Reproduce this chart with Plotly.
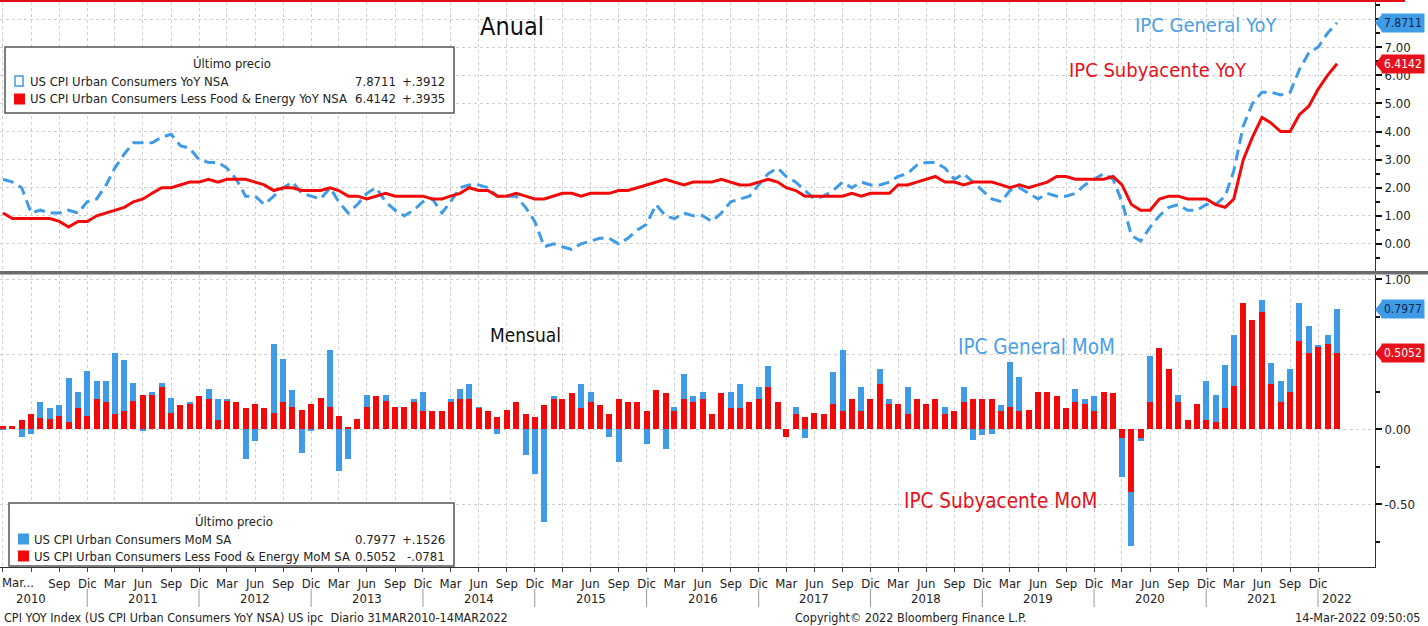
import plotly.graph_objects as go
import pandas as pd

# ---------------- DATA ----------------
dates = pd.date_range("2010-03-01", periods=144, freq="MS")

cpi_yoy = [
    2.3, 2.2, 2.0, 1.1, 1.2, 1.1, 1.1, 1.2, 1.1, 1.5,
    1.6, 2.1, 2.7, 3.2, 3.6, 3.6, 3.6, 3.8, 3.9, 3.5, 3.4, 3.0,
    2.9, 2.9, 2.7, 2.3, 1.7, 1.7, 1.4, 1.7, 2.0, 2.2, 1.8, 1.7,
    1.6, 2.0, 1.5, 1.1, 1.4, 1.8, 2.0, 1.5, 1.2, 1.0, 1.2, 1.5,
    1.6, 1.1, 1.5, 2.0, 2.1, 2.1, 2.0, 1.7, 1.7, 1.7, 1.3, 0.8,
    -0.1, 0.0, -0.1, -0.2, 0.0, 0.1, 0.2, 0.2, 0.0, 0.2, 0.5, 0.7,
    1.4, 1.0, 0.9, 1.1, 1.0, 1.0, 0.8, 1.1, 1.5, 1.6, 1.7, 2.1,
    2.5, 2.7, 2.4, 2.2, 1.9, 1.6, 1.7, 1.9, 2.2, 2.0, 2.2, 2.1,
    2.1, 2.2, 2.4, 2.5, 2.8, 2.9, 2.9, 2.7, 2.3, 2.5, 2.2, 1.9,
    1.6, 1.5, 1.9, 2.0, 1.8, 1.6, 1.8, 1.7, 1.7, 1.8, 2.1, 2.3,
    2.5, 2.3, 1.5, 0.3, 0.1, 0.6, 1.0, 1.3, 1.4, 1.2, 1.2, 1.4,
    1.4, 1.7, 2.6, 4.2, 5.0, 5.4, 5.4, 5.3, 5.4, 6.2, 6.8, 7.0,
    7.5, 7.8711,
]

core_yoy = [
    1.1, 0.9, 0.9, 0.9, 0.9, 0.9, 0.8, 0.6, 0.8, 0.8,
    1.0, 1.1, 1.2, 1.3, 1.5, 1.6, 1.8, 2.0, 2.0, 2.1, 2.2, 2.2,
    2.3, 2.2, 2.3, 2.3, 2.3, 2.2, 2.1, 1.9, 2.0, 2.0, 1.9, 1.9,
    1.9, 2.0, 1.9, 1.7, 1.7, 1.6, 1.7, 1.8, 1.7, 1.7, 1.7, 1.7,
    1.6, 1.6, 1.7, 1.8, 2.0, 1.9, 1.9, 1.7, 1.7, 1.8, 1.7, 1.6,
    1.6, 1.7, 1.8, 1.8, 1.7, 1.8, 1.8, 1.8, 1.9, 1.9, 2.0, 2.1,
    2.2, 2.3, 2.2, 2.1, 2.2, 2.2, 2.2, 2.3, 2.2, 2.1, 2.1, 2.2,
    2.3, 2.2, 2.0, 1.9, 1.7, 1.7, 1.7, 1.7, 1.7, 1.8, 1.7, 1.8,
    1.8, 1.8, 2.1, 2.1, 2.2, 2.3, 2.4, 2.2, 2.2, 2.1, 2.2, 2.2,
    2.2, 2.1, 2.0, 2.1, 2.0, 2.1, 2.2, 2.4, 2.4, 2.3, 2.3, 2.3,
    2.3, 2.4, 2.1, 1.4, 1.2, 1.2, 1.6, 1.7, 1.7, 1.6, 1.6, 1.6,
    1.4, 1.3, 1.6, 3.0, 3.8, 4.5, 4.3, 4.0, 4.0, 4.6, 4.9, 5.5,
    6.0, 6.4142,
]

cpi_mom = [
    0.01, 0.0, -0.05, -0.03, 0.18, 0.14, 0.16, 0.34, 0.25, 0.39,
    0.32, 0.32, 0.51, 0.46, 0.31, -0.01, 0.25, 0.31, 0.21, 0.12, 0.18, 0.12,
    0.27, 0.20, 0.20, 0.10, -0.20, -0.08, 0.02, 0.57, 0.47, 0.26, -0.16, -0.01,
    0.10, 0.53, -0.28, -0.20, 0.05, 0.23, 0.15, 0.23, 0.10, 0.05, 0.20, 0.25,
    0.10, 0.10, 0.20, 0.27, 0.30, 0.15, 0.10, -0.03, 0.10, 0.00, -0.17, -0.30,
    -0.62, 0.22, 0.20, 0.10, 0.30, 0.25, 0.12, -0.05, -0.22, 0.12, 0.02, -0.10,
    0.05, -0.13, 0.15, 0.37, 0.22, 0.25, 0.00, 0.15, 0.25, 0.30, 0.18, 0.28,
    0.42, 0.10, -0.03, 0.15, -0.06, 0.08, 0.05, 0.38, 0.53, 0.05, 0.28, 0.18,
    0.40, 0.20, 0.05, 0.28, 0.20, 0.12, 0.18, 0.15, 0.12, 0.28, -0.07, -0.04,
    -0.03, 0.16, 0.45, 0.35, 0.08, 0.05, 0.25, 0.08, 0.10, 0.27, 0.20, 0.22,
    0.15, 0.10, -0.32, -0.78, -0.08, 0.49, 0.50, 0.38, 0.23, 0.05, 0.15, 0.32,
    0.23, 0.43, 0.63, 0.80, 0.68, 0.86, 0.44, 0.32, 0.40, 0.84, 0.69, 0.56,
    0.63, 0.7977,
]

core_mom = [
    0.02, 0.02, 0.06, 0.10, 0.075, 0.065, 0.09, 0.05, 0.14, 0.09,
    0.20, 0.18, 0.10, 0.12, 0.19, 0.23, 0.23, 0.28, 0.11, 0.16, 0.165, 0.22,
    0.20, 0.06, 0.19, 0.18, 0.14, 0.17, 0.14, 0.11, 0.18, 0.15, 0.13, 0.17,
    0.21, 0.145, 0.087, 0.015, 0.067, 0.145, 0.22, 0.19, 0.15, 0.15, 0.18, 0.12,
    0.12, 0.12, 0.18, 0.20, 0.20, 0.14, 0.12, 0.08, 0.13, 0.18, 0.10, 0.08,
    0.16, 0.20, 0.20, 0.24, 0.14, 0.18, 0.16, 0.10, 0.20, 0.18, 0.18, 0.12,
    0.26, 0.24, 0.12, 0.20, 0.18, 0.20, 0.10, 0.24, 0.14, 0.14, 0.18, 0.20,
    0.28, 0.18, -0.05, 0.10, 0.08, 0.11, 0.10, 0.17, 0.12, 0.20, 0.12, 0.20,
    0.30, 0.17, 0.17, 0.10, 0.20, 0.17, 0.20, 0.10, 0.12, 0.18, 0.20, 0.20,
    0.20, 0.12, 0.15, 0.12, 0.13, 0.25, 0.25, 0.22, 0.14, 0.18, 0.17, 0.12,
    0.25, 0.24, -0.06, -0.42, -0.06, 0.18, 0.54, 0.40, 0.18, 0.06, 0.17, 0.06,
    0.05, 0.14, 0.29, 0.84, 0.73, 0.78, 0.30, 0.18, 0.25, 0.59, 0.51, 0.55,
    0.57, 0.5052,
]

month_names = {3: "Mar", 6: "Jun", 9: "Sep", 12: "Dic"}
years = list(range(2010, 2023))

legend_top = [
    ("US CPI Urban Consumers YoY NSA", "7.8711", "+.3912"),
    ("US CPI Urban Consumers Less Food & Energy YoY NSA", "6.4142", "+.3935"),
]
legend_bot = [
    ("US CPI Urban Consumers MoM SA", "0.7977", "+.1526"),
    ("US CPI Urban Consumers Less Food & Energy MoM SA", "0.5052", "-.0781"),
]

# ---------------- STYLE / GEOMETRY ----------------
BLUE = "#3f9be6"
RED = "#f20a0a"
FONT = "DejaVu Sans Condensed, DejaVu Sans, Arial"
W, H = 1428, 626
ML, MR, MT, MB = 0, 53, 2, 59
PW, PH = W - ML - MR, H - MT - MB


def px(x):
    return (x - ML) / PW


def py(y):
    return (H - MB - y) / PH


tick_dates = [d for d in pd.date_range("2010-03-01", "2021-12-01", freq="MS") if d.month in month_names]
tick_text = []
for d in tick_dates:
    if d.year == 2010 and d.month in (3, 6):
        tick_text.append("")
    else:
        tick_text.append(month_names[d.month])

fig = go.Figure()

fig.add_trace(go.Scatter(x=dates, y=cpi_yoy, mode="lines", xaxis="x2", yaxis="y2",
                         line=dict(color=BLUE, width=3, dash="11px,6px"), showlegend=False))
fig.add_trace(go.Scatter(x=dates, y=core_yoy, mode="lines", xaxis="x2", yaxis="y2",
                         line=dict(color=RED, width=3), showlegend=False))

bar_w = 19.6 * 86400000
fig.add_trace(go.Bar(x=dates, y=cpi_mom, marker=dict(color=BLUE, line=dict(width=0)),
                     width=bar_w, xaxis="x", yaxis="y", showlegend=False))
fig.add_trace(go.Bar(x=dates, y=core_mom, marker=dict(color=RED, line=dict(width=0)),
                     width=bar_w, xaxis="x", yaxis="y", showlegend=False))

xrange = ["2010-02-19 06:00", "2022-06-05"]
grid = dict(showgrid=True, gridcolor="#cfcfcf", griddash="dot", gridwidth=1)

fig.update_layout(
    width=W, height=H,
    margin=dict(l=ML, r=MR, t=MT, b=MB),
    paper_bgcolor="white", plot_bgcolor="white",
    barmode="overlay", bargap=0,
    font=dict(family=FONT, size=12, color="#222"),
    xaxis=dict(type="date", range=xrange, domain=[0, 1], anchor="y",
               tickmode="array", tickvals=tick_dates, ticktext=tick_text,
               ticks="outside", ticklen=4, tickcolor="#444",
               tickfont=dict(size=13, family=FONT, color="#222"),
               showline=True, linecolor="#333", linewidth=1, zeroline=False, **grid),
    xaxis2=dict(type="date", range=xrange, domain=[0, 1], anchor="y2", matches="x",
                tickmode="array", tickvals=tick_dates, showticklabels=False,
                ticks="", showline=False, zeroline=False, **grid),
    yaxis=dict(domain=[0, py(275)], range=[-0.92, 1.027], side="right",
               tickmode="array", tickvals=[-0.5, 0, 0.5, 1.0],
               ticktext=["-0.50", "0.00", "", "1.00"],
               ticks="outside", ticklen=6, tickwidth=2, tickcolor="#111",
               minor=dict(dtick=0.25, ticks="outside", ticklen=4, tickcolor="#111", showgrid=False),
               tickfont=dict(size=13, family=FONT, color="#222"),
               showline=True, linecolor="#333", linewidth=1, zeroline=False, **grid),
    yaxis2=dict(domain=[py(272), 1], range=[-1.0, 8.61], side="right", anchor="x2",
                tickmode="array", tickvals=list(range(0, 9)),
                ticktext=["%.2f" % v for v in range(0, 8)] + [""],
                ticks="outside", ticklen=6, tickwidth=2, tickcolor="#111",
                minor=dict(dtick=0.5, ticks="outside", ticklen=4, tickcolor="#111", showgrid=False),
                tickfont=dict(size=13, family=FONT, color="#222"),
                showline=True, linecolor="#333", linewidth=1, zeroline=False, **grid),
)

shapes = []
ann = []

# top red border
shapes.append(dict(type="line", xref="paper", yref="paper", x0=px(0), x1=px(1405),
                   y0=py(1), y1=py(1), line=dict(color="#e0101a", width=2), layer="above"))
# panel separator
shapes.append(dict(type="rect", xref="paper", yref="paper", x0=px(0), x1=px(W),
                   y0=py(274.5), y1=py(271), fillcolor="#6b6b6b", line=dict(width=0), layer="above"))

LF = 13


def legend_box(x0, y0, x1, y1, header_y, rows, row_ys, hollow_first):
    shapes.append(dict(type="rect", xref="paper", yref="paper", x0=px(x0), x1=px(x1),
                       y0=py(y1), y1=py(y0), fillcolor="white",
                       line=dict(color="#555", width=1.5), layer="above"))
    ann.append(dict(xref="paper", yref="paper", x=px((x0 + x1) / 2 + 2), y=py(header_y),
                    text="Último precio", showarrow=False, xanchor="center", yanchor="middle",
                    font=dict(size=LF, family=FONT, color="#222")))
    for i, ((name, val, chg), ry) in enumerate(zip(rows, row_ys)):
        color = BLUE if i == 0 else RED
        if hollow_first and i == 0:
            shapes.append(dict(type="rect", xref="paper", yref="paper", x0=px(x0 + 10), x1=px(x0 + 18),
                               y0=py(ry + 5), y1=py(ry - 5), fillcolor="white",
                               line=dict(color=color, width=1.5), layer="above"))
        else:
            shapes.append(dict(type="rect", xref="paper", yref="paper", x0=px(x0 + 9), x1=px(x0 + 20),
                               y0=py(ry + 5.5), y1=py(ry - 5.5), fillcolor=color,
                               line=dict(width=0), layer="above"))
        ann.append(dict(xref="paper", yref="paper", x=px(x0 + 23), y=py(ry), text=name,
                        showarrow=False, xanchor="left", yanchor="middle",
                        font=dict(size=LF, family=FONT, color="#222")))
        ann.append(dict(xref="paper", yref="paper", x=px(398), y=py(ry), text=val,
                        showarrow=False, xanchor="right", yanchor="middle",
                        font=dict(size=LF, family=FONT, color="#222")))
        ann.append(dict(xref="paper", yref="paper", x=px(447), y=py(ry), text=chg,
                        showarrow=False, xanchor="right", yanchor="middle",
                        font=dict(size=LF, family=FONT, color="#222")))


legend_box(5, 47, 454, 113, 64, legend_top, [81, 99], True)
legend_box(9, 503, 454, 566, 521, legend_bot, [539, 556], False)


def tag(value, yref, bg, fg):
    ya = "y2" if yref == "y2" else "y"
    span = 0.30 if yref == "y2" else 0.055
    shapes.append(dict(type="path", xref="paper", yref=ya,
                       path="M %f %f L %f %f L %f %f Z" % (px(1375), value, px(1382), value + span,
                                                            px(1382), value - span),
                       fillcolor=bg, line=dict(width=0), layer="above"))
    ann.append(dict(xref="paper", yref=ya, x=px(1381), y=value, text="%.4f" % value,
                    showarrow=False, xanchor="left", yanchor="middle", bgcolor=bg,
                    borderpad=2, font=dict(size=12, family=FONT, color=fg)))


tag(cpi_yoy[-1], "y2", BLUE, "#0b2550")
tag(core_yoy[-1], "y2", "#e8101a", "white")
tag(cpi_mom[-1], "y", BLUE, "#0b2550")
tag(core_mom[-1], "y", "#e8101a", "white")


# chart labels
def label(x, y, text, size, color):
    ann.append(dict(xref="paper", yref="paper", x=px(x), y=py(y), text=text, showarrow=False,
                    xanchor="center", yanchor="middle", font=dict(size=size, family=FONT, color=color)))


label(512, 26, "Anual", 25, "#111")
label(1206, 25, "IPC General YoY", 20, "#4a9fe6")
label(1158, 70, "IPC Subyacente YoY", 20, "#e8101a")
label(525, 335, "Mensual", 19, "#111")
label(1036, 347, "IPC General MoM", 20.5, "#4a9fe6")
label(1000, 501, "IPC Subyacente MoM", 20.5, "#e8101a")

# first truncated tick label
ann.append(dict(xref="paper", yref="paper", x=px(0), y=py(582), text="Mar...", showarrow=False,
                xanchor="left", yanchor="middle", font=dict(size=13, family=FONT, color="#222")))

# year labels + separators
for yr in years:
    xd = "2022-02-01" if yr == 2022 else "%d-06-01" % yr
    ann.append(dict(xref="x", yref="paper", x=xd, y=py(598), text=str(yr), showarrow=False,
                    xanchor="center", yanchor="middle", font=dict(size=13, family=FONT, color="#222")))
    if yr <= 2021:
        shapes.append(dict(type="line", xref="x", yref="paper", x0="%d-12-01" % yr, x1="%d-12-01" % yr,
                           y0=py(589), y1=py(607), line=dict(color="#9a9a9a", width=1)))

# footer
ann += [
    dict(xref="paper", yref="paper", x=px(2), y=py(617), xanchor="left", yanchor="middle", showarrow=False,
         text="CPI YOY Index (US CPI Urban Consumers YoY NSA) US ipc  Diario 31MAR2010-14MAR2022",
         font=dict(size=12.5, family=FONT, color="#222")),
    dict(xref="paper", yref="paper", x=px(910), y=py(617), xanchor="center", yanchor="middle", showarrow=False,
         text="Copyright© 2022 Bloomberg Finance L.P.", font=dict(size=12.5, family=FONT, color="#222")),
    dict(xref="paper", yref="paper", x=px(1423), y=py(617), xanchor="right", yanchor="middle", showarrow=False,
         text="14-Mar-2022 09:50:05", font=dict(size=12.5, family=FONT, color="#222")),
]

fig.update_layout(shapes=shapes, annotations=ann)
fig.write_html("out.html", config={"displayModeBar": False},
               post_script="document.body.style.margin='0';document.body.style.overflow='hidden';")
